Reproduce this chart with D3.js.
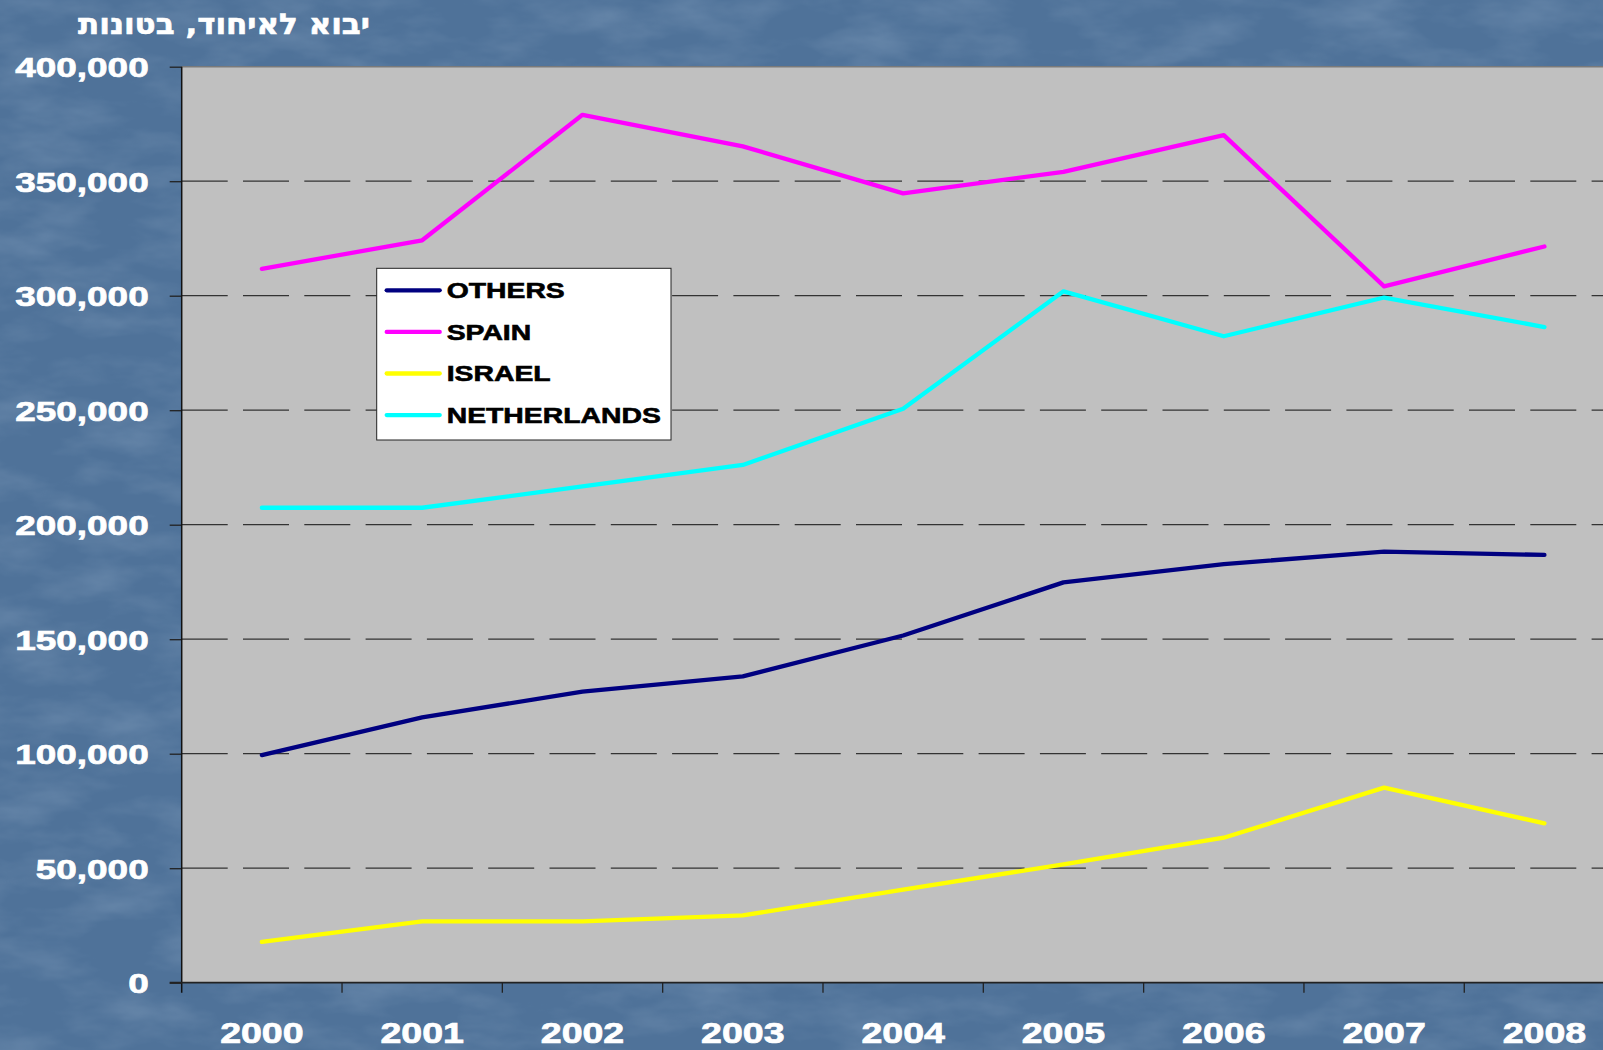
<!DOCTYPE html>
<html>
<head>
<meta charset="utf-8">
<script src="https://cdn.jsdelivr.net/npm/d3@7"></script>
<style>
  body { margin: 0; background: #4f7299; }
  svg { display: block; }
  text { font-family: "Liberation Sans", Arial, "DejaVu Sans", sans-serif; font-weight: bold; }
</style>
</head>
<body>
<svg width="1603" height="1050"></svg>
<script>
// data (tonnes)
var years = ["2000", "2001", "2002", "2003", "2004", "2005", "2006", "2007", "2008"];
var others = [99400, 115900, 127100, 133800, 151600, 174800, 182800, 188200, 186800];
var spain = [311700, 324200, 379000, 365200, 344700, 354100, 370100, 304100, 321500];
var israel = [17800, 26800, 26800, 29400, 40600, 51700, 63300, 85200, 69600];
var netherlands = [207400, 207400, 216700, 226100, 250600, 301900, 282300, 299200, 286300];
var yTicks = [0, 50000, 100000, 150000, 200000, 250000, 300000, 350000, 400000];
var titleText = "יבוא לאיחוד, בטונות";

var series = [
	{name: "OTHERS", color: "#000080", values: others},
	{name: "SPAIN", color: "#ff00ff", values: spain},
	{name: "ISRAEL", color: "#ffff00", values: israel},
	{name: "NETHERLANDS", color: "#00ffff", values: netherlands}
];

var svg = d3.select("svg");
var W = 1603, H = 1050;

// the whole slide is stretched horizontally
var stretch = 1.32;

// textured blue background
var defs = svg.append("defs");
var filt = defs.append("filter").attr("id", "tex").attr("x", 0).attr("y", 0).attr("width", 1).attr("height", 1);
filt.append("feTurbulence")
	.attr("type", "fractalNoise")
	.attr("baseFrequency", "0.012 0.03")
	.attr("numOctaves", 4)
	.attr("seed", 7)
	.attr("result", "noise");
filt.append("feColorMatrix")
	.attr("in", "noise")
	.attr("type", "matrix")
	.attr("values", "0 0 0 0 0.55  0 0 0 0 0.68  0 0 0 0 0.82  0.9 0 0 0 -0.35");

svg.append("rect").attr("width", W).attr("height", H).attr("fill", "#4f7299");
svg.append("rect").attr("width", W).attr("height", H).attr("filter", "url(#tex)").attr("opacity", 0.4);

var plotL = 181.7, plotR = 1624.6, plotT = 66.7, plotB = 982.7;

var x = d3.scaleBand().domain(years).range([plotL, plotR]);
var y = d3.scaleLinear().domain([0, 400000]).range([plotB, plotT]);

// plot area
svg.append("rect")
	.attr("x", plotL).attr("y", plotT)
	.attr("width", plotR - plotL).attr("height", plotB - plotT)
	.attr("fill", "#c0c0c0");

svg.append("line")
	.attr("x1", plotL).attr("x2", plotR)
	.attr("y1", plotT).attr("y2", plotT)
	.attr("stroke", "#7a7a7a").attr("stroke-width", 1.5);

// dashed gridlines
svg.append("g")
	.selectAll("line")
	.data(yTicks.filter(function(d) { return d > 0 && d < 400000; }))
	.enter().append("line")
	.attr("x1", plotL).attr("x2", plotR)
	.attr("y1", function(d) { return y(d); })
	.attr("y2", function(d) { return y(d); })
	.attr("stroke", "#333")
	.attr("stroke-width", 1.3)
	.attr("stroke-dasharray", "46,15.3");

// y axis
var yAxis = svg.append("g")
	.attr("transform", "translate(" + plotL + ",0)")
	.call(d3.axisLeft(y).tickValues(yTicks).tickSize(12).tickPadding(0).tickFormat(d3.format(",")));
yAxis.select(".domain").remove();
yAxis.selectAll(".tick line").attr("stroke", "#222").attr("stroke-width", 1.3);
yAxis.selectAll(".tick text")
	.attr("x", null).attr("dy", null)
	.attr("fill", "#fff")
	.attr("stroke", "#fff").attr("stroke-width", 0.7)
	.attr("font-size", 28)
	.attr("dominant-baseline", "central")
	.attr("text-anchor", "end")
	.attr("transform", "translate(-33,0) scale(" + stretch + ",1)");

svg.append("line")
	.attr("x1", plotL).attr("x2", plotL)
	.attr("y1", plotT).attr("y2", plotB + 10)
	.attr("stroke", "#111").attr("stroke-width", 1.5);

// x axis
svg.append("line")
	.attr("x1", plotL - 12).attr("x2", plotR)
	.attr("y1", plotB).attr("y2", plotB)
	.attr("stroke", "#222").attr("stroke-width", 1.8);

svg.append("g")
	.selectAll("line")
	.data(years.slice(1))
	.enter().append("line")
	.attr("x1", function(d) { return x(d); })
	.attr("x2", function(d) { return x(d); })
	.attr("y1", plotB).attr("y2", plotB + 10)
	.attr("stroke", "#222").attr("stroke-width", 1.3);

svg.append("g")
	.selectAll("text")
	.data(years)
	.enter().append("text")
	.attr("text-anchor", "middle")
	.attr("fill", "#fff")
	.attr("stroke", "#fff").attr("stroke-width", 0.7)
	.attr("font-size", 29)
	.attr("transform", function(d) {
		return "translate(" + (x(d) + x.bandwidth() / 2) + ",1043) scale(" + stretch * 0.98 + ",1)";
	})
	.text(function(d) { return d; });

// lines
var line = d3.line()
	.x(function(d, i) { return x(years[i]) + x.bandwidth() / 2; })
	.y(function(d) { return y(d); });

svg.append("g")
	.selectAll("path")
	.data(series)
	.enter().append("path")
	.attr("d", function(d) { return line(d.values); })
	.attr("fill", "none")
	.attr("stroke", function(d) { return d.color; })
	.attr("stroke-width", 4.3)
	.attr("stroke-linejoin", "round")
	.attr("stroke-linecap", "round");

// legend
var legend = svg.append("g").attr("transform", "translate(376.7,268.3)");
legend.append("rect")
	.attr("width", 294.3).attr("height", 171.7)
	.attr("fill", "#fff")
	.attr("stroke", "#222").attr("stroke-width", 1);

var item = legend.selectAll(".item")
	.data(series)
	.enter().append("g")
	.attr("class", "item")
	.attr("transform", function(d, i) { return "translate(0," + (22 + i * 41.6) + ")"; });

item.append("line")
	.attr("x1", 10).attr("x2", 63)
	.attr("stroke", function(d) { return d.color; })
	.attr("stroke-width", 4.3)
	.attr("stroke-linecap", "round");

item.append("text")
	.attr("fill", "#000")
	.attr("stroke", "#000").attr("stroke-width", 0.6)
	.attr("font-size", 22.5)
	.attr("dominant-baseline", "central")
	.attr("transform", "translate(70,0) scale(1.26,1)")
	.text(function(d) { return d.name; });

// title
svg.append("text")
	.attr("fill", "#fff")
	.attr("stroke", "#fff").attr("stroke-width", 0.6)
	.attr("font-size", 29)
	.style("font-family", "'DejaVu Sans', sans-serif")
	.attr("text-anchor", "middle")
	.attr("transform", "translate(224,34) scale(1.07,1)")
	.text(titleText);
</script>
</body>
</html>
